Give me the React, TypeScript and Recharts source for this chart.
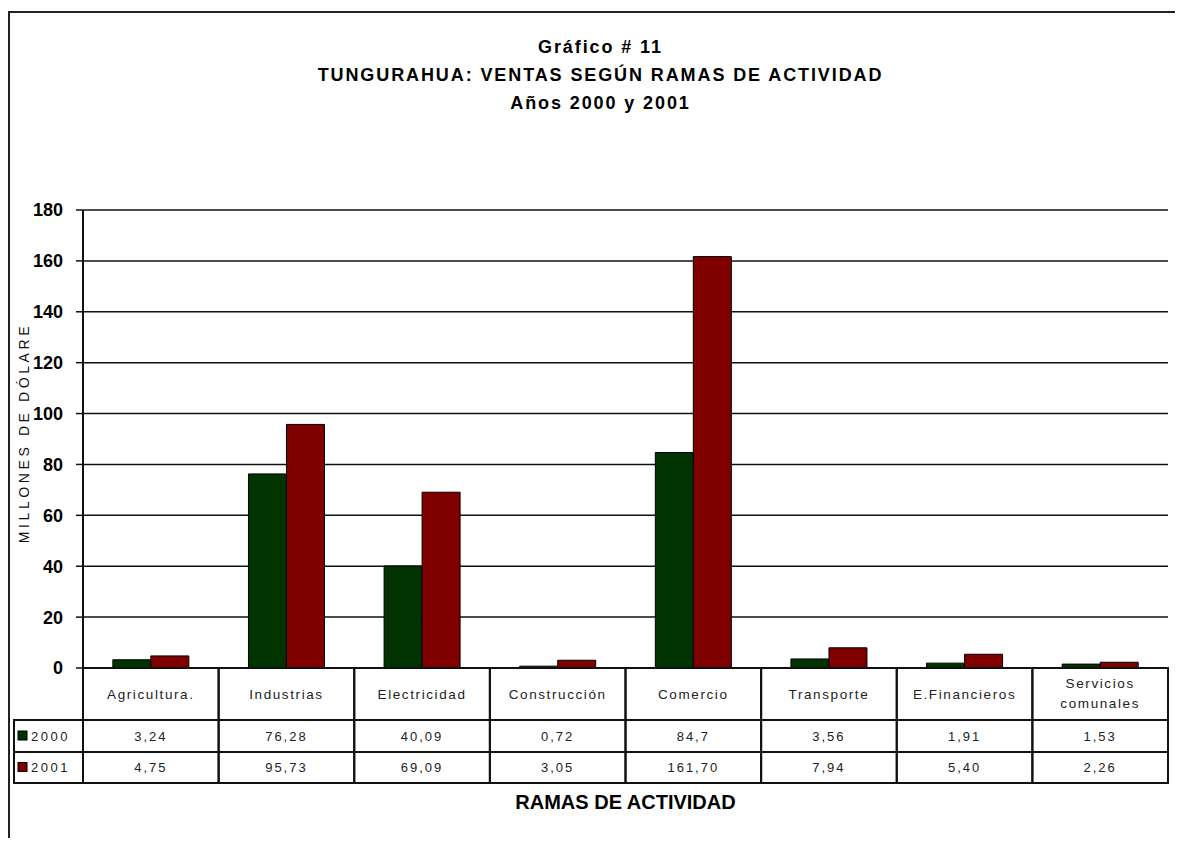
import React from 'react';
import { BarChart, Bar, XAxis, YAxis, CartesianGrid } from 'recharts';

const categories = [
  'Agricultura.',
  'Industrias',
  'Electricidad',
  'Construcción',
  'Comercio',
  'Transporte',
  'E.Financieros',
  'Servicios comunales',
];
const values2000 = [3.24, 76.28, 40.09, 0.72, 84.7, 3.56, 1.91, 1.53];
const values2001 = [4.75, 95.73, 69.09, 3.05, 161.7, 7.94, 5.4, 2.26];
const yTicks = [0, 20, 40, 60, 80, 100, 120, 140, 160, 180];

const series = [
  { key: 'y2000', label: '2000', color: '#003300', values: values2000, fmt: (v: number) => String(v).replace('.', ',') },
  { key: 'y2001', label: '2001', color: '#800000', values: values2001, fmt: (v: number) => v.toFixed(2).replace('.', ',') },
];

const data = categories.map((name, i) => ({ name, y2000: values2000[i], y2001: values2001[i] }));

const W = 1175;
const H = 838;
const M = { top: 202, right: 15, bottom: 48, left: 15 };
const Y_AXIS_W = 60;
const X_AXIS_H = 130;
const PLOT_LEFT = M.left + Y_AXIS_W;
const COL_W = (W - M.right - PLOT_LEFT) / categories.length;
const ROW_CAT = 52;
const ROW_VAL = [32, 31];
const LEGEND_W = 69;
const FONT = '"Liberation Sans", Arial, sans-serif';
const LINE = '#111';

// one table column per category, hung under the axis tick
const TableTick = (props: any) => {
  const { x, y, payload } = props;
  const i = payload.index;
  const left = x - COL_W / 2;
  const r1 = y + ROW_CAT;
  const r2 = r1 + ROW_VAL[0];
  const bottom = r2 + ROW_VAL[1];
  const words = String(payload.value).split(' ');
  const txt = { textAnchor: 'middle' as const, dominantBaseline: 'central' as const, fill: '#222' };
  return (
    <g fontFamily={FONT}>
      <rect x={left} y={y} width={COL_W} height={bottom - y} fill="none" stroke={LINE} strokeWidth={2} />
      <line x1={left} x2={left + COL_W} y1={r1} y2={r1} stroke={LINE} strokeWidth={2} />
      <line x1={left} x2={left + COL_W} y1={r2} y2={r2} stroke={LINE} strokeWidth={2} />
      {words.length > 1 ? (
        words.map((w, k) => (
          <text key={k} x={x} y={y + 15 + k * 20} fontSize={13.5} letterSpacing={1.6} {...txt}>
            {w}
          </text>
        ))
      ) : (
        <text x={x} y={y + ROW_CAT / 2} fontSize={13.5} letterSpacing={1.6} {...txt}>
          {payload.value}
        </text>
      )}
      {series.map((s, k) => (
        <text key={s.key} x={x} y={(k === 0 ? r1 : r2) + ROW_VAL[k] / 2} fontSize={13} letterSpacing={2} {...txt}>
          {s.fmt(s.values[i])}
        </text>
      ))}
      {i === 0 && (
        <g>
          <rect x={left - LEGEND_W} y={r1} width={LEGEND_W} height={bottom - r1} fill="none" stroke={LINE} strokeWidth={2} />
          <line x1={left - LEGEND_W} x2={left} y1={r2} y2={r2} stroke={LINE} strokeWidth={2} />
          {series.map((s, k) => {
            const cy = (k === 0 ? r1 : r2) + ROW_VAL[k] / 2;
            return (
              <g key={s.key}>
                <rect x={left - LEGEND_W + 4} y={cy - 5} width={9} height={9} fill={s.color} stroke="#000" strokeWidth={1} />
                <text x={left - LEGEND_W + 17} y={cy} dominantBaseline="central" fontSize={13} letterSpacing={2.5} fill="#222">
                  {s.label}
                </text>
              </g>
            );
          })}
        </g>
      )}
    </g>
  );
};

export default function App() {
  return (
    <div style={{ position: 'relative', width: W, height: H, marginBottom: -8, overflow: 'hidden', fontFamily: FONT, background: '#fff' }}>
      <div style={{ position: 'absolute', left: 0, top: 3, width: W, height: 900, boxSizing: 'border-box', border: '2px solid #222' }} />

      <div style={{ position: 'absolute', left: 5, top: 25, width: W, textAlign: 'center', fontWeight: 'bold', fontSize: 18, lineHeight: '28px', letterSpacing: 1.9, color: '#000' }}>
        <div>Gráfico # 11</div>
        <div>TUNGURAHUA: VENTAS SEGÚN RAMAS DE ACTIVIDAD</div>
        <div>Años 2000 y 2001</div>
      </div>

      <div
        style={{
          position: 'absolute',
          left: 16,
          top: 425,
          transform: 'translate(-50%, -50%) rotate(-90deg)',
          whiteSpace: 'nowrap',
          fontSize: 14,
          letterSpacing: 3.6,
          color: '#111',
          zIndex: 2,
        }}
      >
        MILLONES DE DÓLARE
      </div>

      <div style={{ position: 'absolute', left: PLOT_LEFT, top: 783, width: COL_W * categories.length, textAlign: 'center', fontWeight: 'bold', fontSize: 20, color: '#000' }}>
        RAMAS DE ACTIVIDAD
      </div>

      <div style={{ position: 'absolute', left: 0, top: 0 }}>
        <BarChart width={W} height={H} data={data} margin={M} barGap={0} barCategoryGap="22%">
          <CartesianGrid horizontal vertical={false} stroke={LINE} strokeWidth={1.5} />
          <XAxis
            dataKey="name"
            interval={0}
            height={X_AXIS_H}
            tickLine={false}
            tickSize={0}
            tickMargin={0}
            axisLine={{ stroke: LINE, strokeWidth: 2 }}
            tick={(p: any) => <TableTick {...p} />}
          />
          <YAxis
            width={Y_AXIS_W}
            domain={[0, 180]}
            ticks={yTicks}
            interval={0}
            tickSize={7}
            tickMargin={13}
            tickLine={{ stroke: LINE, strokeWidth: 1.5 }}
            axisLine={{ stroke: LINE, strokeWidth: 2 }}
            tick={{ fontSize: 18, fontWeight: 'bold', fill: '#000', fontFamily: FONT }}
          />
          <YAxis
            yAxisId="frame"
            orientation="right"
            width={0}
            domain={[0, 180]}
            tick={false}
            tickLine={false}
            axisLine={{ stroke: LINE, strokeWidth: 2 }}
          />
          {series.map((s) => (
            <Bar key={s.key} dataKey={s.key} name={s.label} fill={s.color} stroke="#000" strokeWidth={1} isAnimationActive={false} />
          ))}
        </BarChart>
      </div>
    </div>
  );
}
